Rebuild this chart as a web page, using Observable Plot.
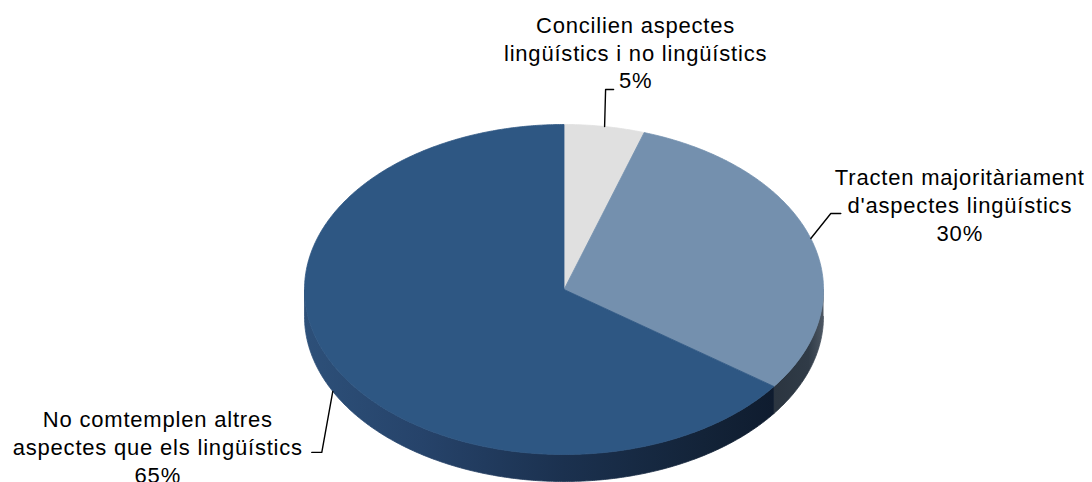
<!DOCTYPE html>
<html><head><meta charset="utf-8">
<script src="https://cdn.jsdelivr.net/npm/d3@7"></script>
<script src="https://cdn.jsdelivr.net/npm/@observablehq/plot@0.6"></script>
<style>body{margin:0;background:#fff;}</style>
</head><body><div id="chart"></div>
<script>
// ---- data ----
const categories = [
  "Concilien aspectes\nlingüístics i no lingüístics",
  "Tracten majoritàriament\nd'aspectes lingüístics",
  "No comtemplen altres\naspectes que els lingüístics"
];
const values = [5, 30, 65];

// ---- layout / style constants ----
const W = 1092, H = 482;
const geom = {cx: 563.5, cy: 289, rx: 259.5, ry: 165, depth: 27};
const topColors = ["#E0E0E0", "#7490AE", "#2E5783"];
const sideStops = [
  [[0, "#b0b0b0"], [1, "#909090"]],
  [[0, "#2b3540"], [0.7, "#303b47"], [1, "#4d5763"]],
  [[0, "#2d5079"], [0.25, "#26436a"], [0.55, "#1b314f"], [0.85, "#132338"], [1, "#0f1c2f"]]
];
const labelOffset = [[31, -75], [149, -34], [-175, 82]];
const leaderElbow = [[1, -37], [20, -25], [-11, 61]];
const leaderTail = [8, 10, -10];

// ---- geometry from data ----
const total = d3.sum(values);
const pt = (t, dz = 0) => [geom.cx + geom.rx * Math.sin(t), geom.cy - geom.ry * Math.cos(t) + dz];
let acc = 0;
const slices = values.map((v, i) => {
  const a0 = acc / total * 2 * Math.PI;
  acc += v;
  const a1 = acc / total * 2 * Math.PI;
  return {i, name: categories[i], value: v, a0, a1, mid: (a0 + a1) / 2};
});
const arcPts = (s, e, dz) => {
  const n = Math.max(2, Math.ceil((e - s) / (Math.PI / 360)));
  return d3.range(n + 1).map(k => pt(s + (e - s) * k / n, dz));
};

const topPts = [];
for (const s of slices) {
  const ring = [[geom.cx, geom.cy], ...arcPts(s.a0, s.a1, 0), [geom.cx, geom.cy]];
  ring.forEach(([x, y]) => topPts.push({slice: s.name, x, y}));
}
const sidePolys = slices.map(s => {
  const st = Math.max(s.a0, Math.PI / 2), en = Math.min(s.a1, 3 * Math.PI / 2);
  if (en <= st) return [];
  const ring = [...arcPts(st, en, 0), ...arcPts(st, en, geom.depth).reverse()];
  return ring.map(([x, y]) => ({slice: s.name, x, y}));
});

const labels = slices.map(s => {
  const front = Math.cos(s.mid) < 0;
  const [x0, y0] = pt(s.mid, 0);
  const [sx, sy] = pt(s.mid, front ? geom.depth : 0);
  const [ox, oy] = labelOffset[s.i];
  return {name: s.name, text: s.name + "\n" + s.value + "%", x: x0 + ox, y: y0 + oy, sx, sy};
});
const leaders = [];
labels.forEach((l, i) => {
  const ex = l.sx + leaderElbow[i][0], ey = l.sy + leaderElbow[i][1];
  leaders.push({id: i, x: l.sx, y: l.sy}, {id: i, x: ex, y: ey}, {id: i, x: ex + leaderTail[i], y: ey});
});

const defs = () => {
  const d = d3.create("svg:defs");
  sideStops.forEach((stops, i) => {
    const g = d.append("linearGradient").attr("id", "side" + i).attr("x1", "0").attr("x2", "1").attr("y1", "0").attr("y2", "0");
    stops.forEach(([o, c]) => g.append("stop").attr("offset", o).attr("stop-color", c));
  });
  return d.node();
};

const chart = Plot.plot({
  width: W, height: H,
  margin: 0,
  x: {domain: [0, W], range: [0, W], axis: null},
  y: {domain: [0, H], range: [0, H], axis: null},
  color: {domain: categories, range: topColors},
  style: {fontFamily: "'Liberation Sans', Arial, sans-serif", background: "#fff"},
  marks: [
    defs,
    ...sidePolys.map((poly, i) => Plot.line(poly, {x: "x", y: "y", fill: `url(#side${i})`, stroke: `url(#side${i})`, strokeWidth: 0.8})),
    Plot.line(topPts, {x: "x", y: "y", z: "slice", fill: "slice", stroke: "slice", strokeWidth: 0.8}),
    Plot.line(leaders, {x: "x", y: "y", z: "id", stroke: "#000", strokeWidth: 1.4}),
    Plot.text(labels, {x: "x", y: "y", text: "text", fontSize: 22, lineHeight: 28 / 22, fill: "#000", textAnchor: "middle"})
  ]
});
chart.style.letterSpacing = "0.8px";
document.getElementById("chart").appendChild(chart);
</script>
</body></html>
